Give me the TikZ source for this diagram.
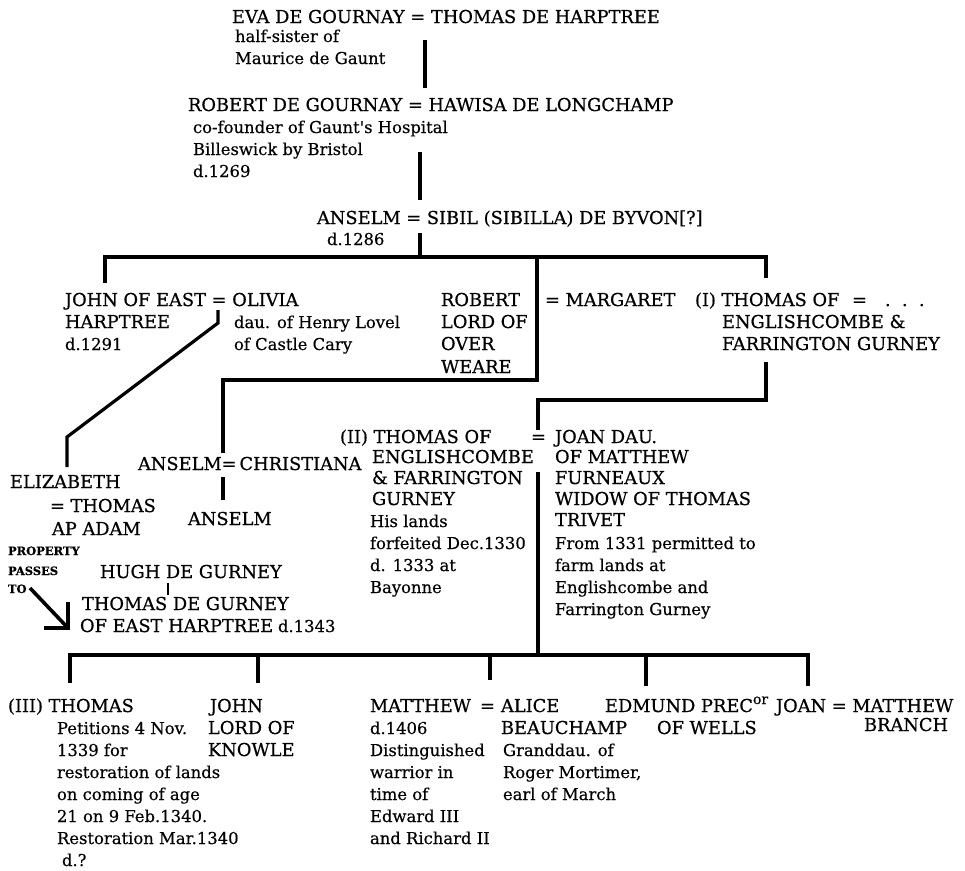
\documentclass[tikz,border=0pt]{standalone}
\usepackage{fontspec}
\newfontfamily\serifdv[FakeBold=0.6]{DejaVu Serif}
\newfontfamily\serifdvlow[FakeBold=0.4]{DejaVu Serif}
\newcommand\capsfont{\serifdv\fontsize{17.8}{22}\selectfont}
\newcommand\lowfont{\serifdvlow\fontsize{16.4}{22}\selectfont}
\newcommand\supfont{\serifdvlow\fontsize{14}{16}\selectfont}
\newcommand\smallbold{\serifdv\bfseries\fontsize{11.5}{14}\selectfont}
\begin{document}
\begin{tikzpicture}[x=1pt,y=-1pt,
  capt/.style={inner sep=0pt,outer sep=0pt,anchor=base west,font=\capsfont},
  low/.style={inner sep=0pt,outer sep=0pt,anchor=base west,font=\lowfont},
  sb/.style={inner sep=0pt,outer sep=0pt,anchor=base west,font=\smallbold},
  link/.style={line width=3.2pt,line join=miter,black}]
\useasboundingbox (0,0) rectangle (965,870);

% ---------- generation 1
\node[capt] (eva) at (232,23) {EVA DE GOURNAY = THOMAS DE HARPTREE};
\node[low] (eva1) at (235,42) {half-sister of};
\node[low] (eva2) at (235,64) {Maurice de Gaunt};
\coordinate (g1a) at (425,40); \coordinate (g1b) at (425,88);
\draw[link] (g1a) -- (g1b);

% ---------- generation 2
\node[capt] (rob) at (188,111) {ROBERT DE GOURNAY = HAWISA DE LONGCHAMP};
\node[low] (rob1) at (193,133) {co-founder of Gaunt's Hospital};
\node[low] (rob2) at (193,155) {Billeswick by Bristol};
\node[low] (rob3) at (193,177) {d.1269};
\coordinate (g2a) at (420,152); \coordinate (g2b) at (420,200);
\draw[link] (g2a) -- (g2b);

% ---------- generation 3
\node[capt] (ans) at (317,224) {ANSELM = SIBIL (SIBILLA) DE BYVON[?]};
\node[low] (ans1) at (327,245) {d.1286};
\coordinate (g3a) at (420,233); \coordinate (g3b) at (420,257);
\draw[link] (g3a) -- (g3b);

% bar 1
\coordinate (b1l) at (105,257); \coordinate (b1r) at (766,257);
\coordinate (c1) at (105,283); \coordinate (c4) at (766,278);
\draw[link] (c1) -- (b1l) -- (b1r) -- (c4);
\coordinate (c3a) at (537,257); \coordinate (c3b) at (537,380);
\coordinate (c3c) at (223,380); \coordinate (c3d) at (223,453);
\draw[link] (c3a) -- (c3b) -- (c3c) -- (c3d);

% ---------- generation 4
\node[capt] (john) at (65,306) {JOHN OF EAST = OLIVIA};
\node[capt] (john1) at (65,328) {HARPTREE};
\node[low] (john2) at (65,350) {d.1291};
\node[low] (oli1) at (234,328) {dau. of Henry Lovel};
\node[low] (oli2) at (234,350) {of Castle Cary};

\node[capt] (robt) at (441,306) {ROBERT};
\node[capt] (robt1) at (441,328) {LORD OF};
\node[capt] (robt2) at (441,350) {OVER};
\node[capt] (robt3) at (441,373) {WEARE};
\node[capt] (marg) at (545,306) {= MARGARET};

\node[capt] (thI) at (695,306) {(I) THOMAS OF};
\node[capt] (thIeq) at (852,306) {=};
\node[capt] (thIw) at (885,306) {.\ \ .\ \ .};
\node[capt] (thI1) at (722,328) {ENGLISHCOMBE \&};
\node[capt] (thI2) at (722,350) {FARRINGTON GURNEY};

% John -> Elizabeth
\coordinate (jo1) at (218,310); \coordinate (jo2) at (218,323);
\coordinate (jo3) at (67,437); \coordinate (jo4) at (67,467);
\draw[link] (jo1) -- (jo2) -- (jo3) -- (jo4);

% (I) Thomas -> (II) Thomas
\coordinate (t1a) at (766,362); \coordinate (t1b) at (766,400);
\coordinate (t1c) at (538,400); \coordinate (t1d) at (538,430);
\draw[link] (t1a) -- (t1b) -- (t1c) -- (t1d);

% ---------- generation 5
\node[capt] (anc) at (138,470) {ANSELM=\,CHRISTIANA};
\coordinate (an1) at (223,477); \coordinate (an2) at (223,500);
\draw[link] (an1) -- (an2);
\node[capt] (ans2) at (188,525) {ANSELM};

\node[capt] (eliz) at (10,488) {ELIZABETH};
\node[capt] (eliz1) at (50,512) {= THOMAS};
\node[capt] (eliz2) at (52,535) {AP ADAM};
\node[sb] (pp1) at (8,555) {PROPERTY};
\node[sb] (pp2) at (8,575) {PASSES};
\node[sb] (pp3) at (8,593) {TO};

\node[capt] (hugh) at (100,578) {HUGH DE GURNEY};
\coordinate (hu1) at (168,583); \coordinate (hu2) at (168,595);
\draw[line width=2.4pt] (hu1) -- (hu2);
\node[capt] (tdg) at (82,610) {THOMAS DE GURNEY};
\node[capt] (tdg1) at (80,632) {OF EAST HARPTREE};
\node[low] (tdg2) at (278,632) {d.1343};

\coordinate (ar1) at (30,588); \coordinate (ar2) at (68,628);
\coordinate (ar3) at (68,602); \coordinate (ar4) at (44,628);
\draw[line width=3.6pt] (ar1) -- (ar2);
\draw[line width=3.6pt,line join=miter] (ar3) -- (ar2) -- (ar4);

\node[capt] (thII) at (340,443) {(II) THOMAS OF};
\node[capt] (thIIeq) at (531,443) {=};
\node[capt] (thII1) at (372,463) {ENGLISHCOMBE};
\node[capt] (thII2) at (372,484) {\& FARRINGTON};
\node[capt] (thII3) at (372,505) {GURNEY};
\node[low] (thII4) at (370,527) {His lands};
\node[low] (thII5) at (370,549) {forfeited Dec.1330};
\node[low] (thII6) at (370,571) {d. 1333 at};
\node[low] (thII7) at (370,593) {Bayonne};

\node[capt] (joan) at (555,443) {JOAN DAU.};
\node[capt] (joan1) at (555,463) {OF MATTHEW};
\node[capt] (joan2) at (555,484) {FURNEAUX};
\node[capt] (joan3) at (555,505) {WIDOW OF THOMAS};
\node[capt] (joan4) at (555,526) {TRIVET};
\node[low] (joan5) at (555,549) {From 1331 permitted to};
\node[low] (joan6) at (555,571) {farm lands at};
\node[low] (joan7) at (555,593) {Englishcombe and};
\node[low] (joan8) at (555,615) {Farrington Gurney};

\coordinate (p2a) at (538,472); \coordinate (p2b) at (538,655);
\draw[link] (p2a) -- (p2b);

% bar 2
\coordinate (b2l) at (70,655); \coordinate (b2r) at (808,655);
\coordinate (d1) at (70,683); \coordinate (d5) at (808,686);
\draw[link] (d1) -- (b2l) -- (b2r) -- (d5);
\coordinate (d2a) at (258,655); \coordinate (d2b) at (258,683);
\coordinate (d3a) at (490,655); \coordinate (d3b) at (490,680);
\coordinate (d4a) at (646,655); \coordinate (d4b) at (646,686);
\draw[link] (d2a) -- (d2b);
\draw[link] (d3a) -- (d3b);
\draw[link] (d4a) -- (d4b);

% ---------- generation 6
\node[capt] (thIII) at (8,712) {(III) THOMAS};
\node[low] (thIII1) at (57,734) {Petitions 4 Nov.};
\node[low] (thIII2) at (57,756) {1339 for};
\node[low] (thIII3) at (57,778) {restoration of lands};
\node[low] (thIII4) at (57,800) {on coming of age};
\node[low] (thIII5) at (57,822) {21 on 9 Feb.1340.};
\node[low] (thIII6) at (57,844) {Restoration Mar.1340};
\node[low] (thIII7) at (62,866) {d.?};

\node[capt] (jn) at (210,712) {JOHN};
\node[capt] (jn1) at (208,734) {LORD OF};
\node[capt] (jn2) at (208,756) {KNOWLE};

\node[capt] (mat) at (370,712) {MATTHEW};
\node[capt] (mateq) at (480,712) {=};
\node[low] (mat1) at (370,734) {d.1406};
\node[low] (mat2) at (370,756) {Distinguished};
\node[low] (mat3) at (370,778) {warrior in};
\node[low] (mat4) at (370,800) {time of};
\node[low] (mat5) at (370,822) {Edward III};
\node[low] (mat6) at (370,844) {and Richard II};

\node[capt] (ali) at (501,712) {ALICE};
\node[capt] (ali1) at (501,734) {BEAUCHAMP};
\node[low] (ali2) at (503,756) {Granddau. of};
\node[low] (ali3) at (503,778) {Roger Mortimer,};
\node[low] (ali4) at (503,800) {earl of March};

\node[capt] (edm) at (605,712) {EDMUND PREC\raisebox{8pt}{\supfont or}};
\node[capt] (edm1) at (657,734) {OF WELLS};

\node[capt] (jo) at (776,712) {JOAN = MATTHEW};
\node[capt] (jo1) at (864,731) {BRANCH};
\end{tikzpicture}
\end{document}
